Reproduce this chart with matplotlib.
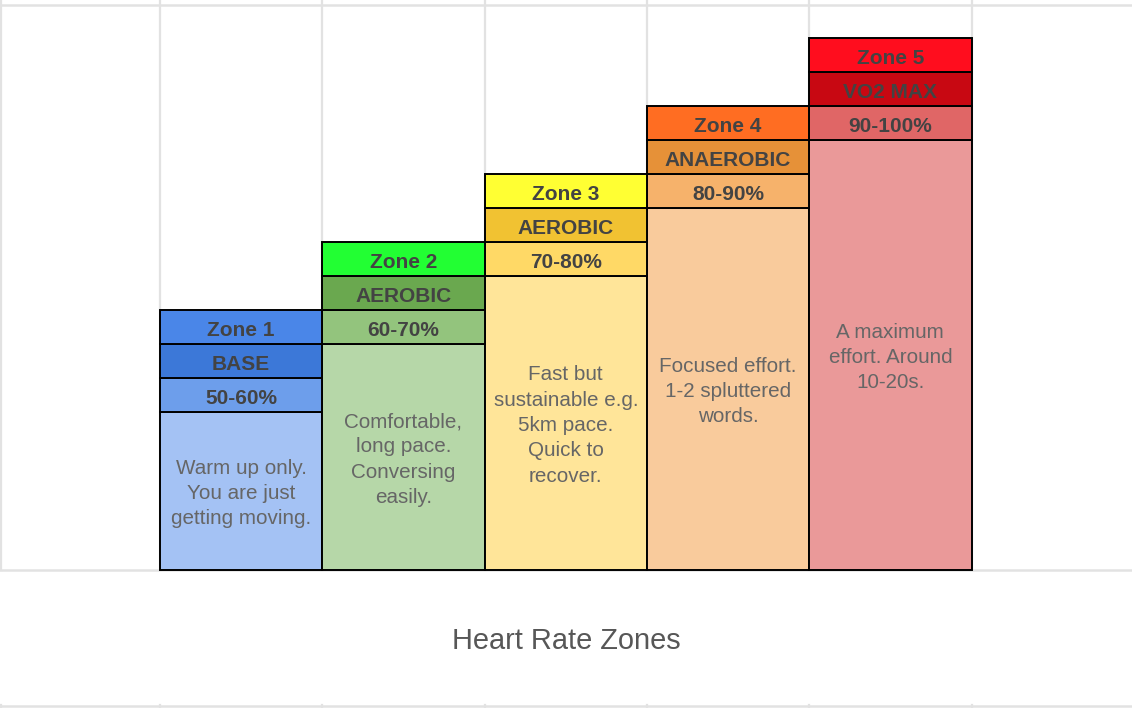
import matplotlib
matplotlib.use("Agg")
import matplotlib.pyplot as plt

# ---- data ----
zones = ["Zone 1", "Zone 2", "Zone 3", "Zone 4", "Zone 5"]
zone_types = ["BASE", "AEROBIC", "AEROBIC", "ANAEROBIC", "VO2 MAX"]
hr_ranges = ["50-60%", "60-70%", "70-80%", "80-90%", "90-100%"]
descriptions = [
    "Warm up only.\nYou are just\ngetting moving.",
    "Comfortable,\nlong pace.\nConversing\neasily.",
    "Fast but\nsustainable e.g.\n5km pace.\nQuick to\nrecover.",
    "Focused effort.\n1-2 spluttered\nwords.",
    "A maximum\neffort. Around\n10-20s.",
]
body_heights = [4.65, 6.65, 8.65, 10.65, 12.65]   # in spreadsheet rows
row_height = 1.0
title = "Heart Rate Zones"

zone_colors = ["#4a86e8", "#22ff33", "#ffff33", "#ff6d22", "#ff0d1e"]
type_colors = ["#3c78d8", "#6aa84f", "#f1c232", "#e69138", "#c80812"]
range_colors = ["#6d9eeb", "#93c47d", "#ffd966", "#f6b26b", "#e06666"]
body_colors = ["#a4c2f4", "#b6d7a8", "#ffe599", "#f9cb9c", "#ea9999"]

# ---- layout (pixel geometry of the sheet) ----
W, H = 1132, 708
col_w = 162.3
x0_px = 160.0
base_px = 570.0
row_px = 34.0

fig = plt.figure(figsize=(W / 100, H / 100), dpi=100)
ax = fig.add_axes([0, 0, 1, 1])
ax.set_xlim(-x0_px / col_w, (W - x0_px) / col_w)
ax.set_ylim((base_px - H) / row_px, base_px / row_px)
ax.axis("off")

def ydat(py):
    return (base_px - py) / row_px

def xdat(px):
    return (px - x0_px) / col_w

grid_c = "#e2e2e2"
# vertical gridlines
for xv in [xdat(0.8)] + list(range(6)):
    ax.plot([xv, xv], [ydat(0), ydat(base_px)], color=grid_c, lw=1.6, zorder=0)
    ax.plot([xv, xv], [ydat(705), ydat(H)], color=grid_c, lw=1.6, zorder=0)
# horizontal gridlines
for py in [5, base_px, 705.5]:
    ax.axhline(ydat(py), color=grid_c, lw=1.8, zorder=0)

x = list(range(len(zones)))
kw = dict(width=1.0, align="edge", edgecolor="black", linewidth=1.4, zorder=2)
ax.bar(x, body_heights, color=body_colors, **kw)
b1 = body_heights
ax.bar(x, [row_height] * 5, bottom=b1, color=range_colors, **kw)
b2 = [b + row_height for b in b1]
ax.bar(x, [row_height] * 5, bottom=b2, color=type_colors, **kw)
b3 = [b + row_height for b in b2]
ax.bar(x, [row_height] * 5, bottom=b3, color=zone_colors, **kw)

font = "Liberation Sans"
hdr_c = "#434343"
hdr_shift = 4.0 / row_px
body_shift = 2.5 / row_px
for i in x:
    cx = i + 0.5
    for bot, label in ((b1[i], hr_ranges[i]), (b2[i], zone_types[i]), (b3[i], zones[i])):
        ax.text(cx, bot + 0.5 * row_height - hdr_shift, label, ha="center", va="center",
                fontsize=15, fontweight="bold", color=hdr_c, family=font, zorder=3)
    ax.text(cx, body_heights[i] / 2 - body_shift, descriptions[i], ha="center", va="center",
            fontsize=14.9, color="#666666", family=font, linespacing=1.42,
            multialignment="center", zorder=3)

ax.text(xdat(W / 2), ydat(641), title, ha="center", va="center",
        fontsize=20.9, color="#575757", family=font)

fig.savefig("out.png", dpi=100)
